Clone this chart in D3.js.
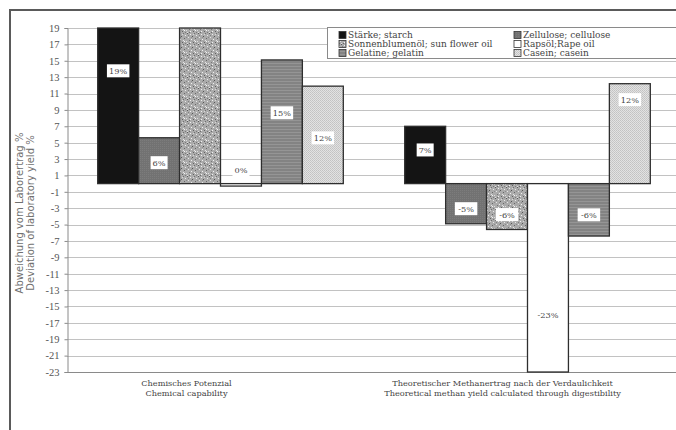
<!DOCTYPE html>
<html>
<head>
<meta charset="utf-8">
<script src="https://cdn.jsdelivr.net/npm/d3@7"></script>
<style>
  html, body { margin: 0; padding: 0; background: #fff; }
  svg { display: block; }
</style>
</head>
<body>
<svg id="chart" width="676" height="430"></svg>
<script>
// ---- data ----
const categories = [
  ["Chemisches Potenzial", "Chemical capability"],
  ["Theoretischer Methanertrag nach der Verdaulichkeit", "Theoretical methan yield calculated through digestibility"]
];
const seriesNames = [
  "Stärke; starch",
  "Zellulose; cellulose",
  "Sonnenblumenöl; sun flower oil",
  "Rapsöl;Rape oil",
  "Gelatine; gelatin",
  "Casein; casein"
];
const starch    = [19, 7];
const cellulose = [5.6, -4.9];
const sunflower = [19, -5.6];
const rapeOil   = [-0.3, -23];
const gelatin   = [15.1, -6.4];
const casein    = [11.9, 12.2];
const starchLabels    = ["19%", "7%"];
const celluloseLabels = ["6%", "-5%"];
const sunflowerLabels = [null, "-6%"];
const rapeOilLabels   = ["0%", "-23%"];
const gelatinLabels   = ["15%", "-6%"];
const caseinLabels    = ["12%", "12%"];
const yTicks = d3.range(-23, 20, 2);
const yDomain = [-23, 19];

const seriesValues = [starch, cellulose, sunflower, rapeOil, gelatin, casein];
const seriesLabels = [starchLabels, celluloseLabels, sunflowerLabels, rapeOilLabels, gelatinLabels, caseinLabels];

// ---- layout / style ----
const fills = ["#141414", "url(#pCell)", "url(#pSun)", "#ffffff", "url(#pGel)", "url(#pCas)"];
// pixel nudges of data labels relative to bar centre [series][category]
const labelNudge = [[-35, -5], [2, 5], [0, 8], [-15, 37], [-9, 5], [3, -34]];
const catLabelDx = [-34, -25];
const serif = "'DejaVu Serif','Liberation Serif',serif";
const tickSerif = "'Liberation Serif','DejaVu Serif',serif";
const sans = "'DejaVu Sans','Liberation Sans',sans-serif";

const svg = d3.select("#chart");
const defs = svg.append("defs");

// patterns
const pSun = defs.append("pattern").attr("id", "pSun").attr("patternUnits", "userSpaceOnUse")
  .attr("width", 11).attr("height", 11);
pSun.append("rect").attr("width", 11).attr("height", 11).attr("fill", "#ababab");
[[0,0,"#5a5a5a"],[3,1,"#eeeeee"],[7,0,"#707070"],[9,2,"#e8e8e8"],[5,3,"#555555"],[1,4,"#e6e6e6"],
 [8,5,"#666666"],[4,6,"#f0f0f0"],[2,7,"#777777"],[10,8,"#dddddd"],[6,9,"#606060"],[0,10,"#e0e0e0"],
 [3,9,"#f2f2f2"],[9,10,"#7a7a7a"],[6,1,"#d8d8d8"],[1,2,"#808080"],[10,4,"#8a8a8a"],[7,7,"#e4e4e4"],
 [4,4,"#8c8c8c"],[2,10,"#6a6a6a"],[8,8,"#f4f4f4"],[5,8,"#9a9a9a"]]
  .forEach(([x,y,c]) => pSun.append("rect").attr("x", x).attr("y", y).attr("width", 1).attr("height", 1).attr("fill", c));

const pGel = defs.append("pattern").attr("id", "pGel").attr("patternUnits", "userSpaceOnUse")
  .attr("width", 4).attr("height", 3);
pGel.append("rect").attr("width", 4).attr("height", 3).attr("fill", "#838383");
pGel.append("rect").attr("width", 4).attr("height", 1).attr("fill", "#959595");

const pCell = defs.append("pattern").attr("id", "pCell").attr("patternUnits", "userSpaceOnUse")
  .attr("width", 2).attr("height", 2);
pCell.append("rect").attr("width", 2).attr("height", 2).attr("fill", "#727272");
pCell.append("rect").attr("width", 1).attr("height", 1).attr("fill", "#7c7c7c");

const pCas = defs.append("pattern").attr("id", "pCas").attr("patternUnits", "userSpaceOnUse")
  .attr("width", 2).attr("height", 2);
pCas.append("rect").attr("width", 2).attr("height", 2).attr("fill", "#e2e2e2");
pCas.append("rect").attr("width", 1).attr("height", 1).attr("fill", "#c2c2c2");
pCas.append("rect").attr("x", 1).attr("y", 1).attr("width", 1).attr("height", 1).attr("fill", "#c8c8c8");

// scales
const plotL = 67, plotR = 681, plotT = 28, plotB = 372;
const y = d3.scaleLinear().domain(yDomain).range([plotB, plotT]);
const x0 = d3.scaleBand().domain(d3.range(categories.length)).range([plotL, plotR])
  .paddingInner(0.2).paddingOuter(0.1);
const x1 = d3.scaleBand().domain(d3.range(seriesNames.length)).range([0, x0.bandwidth()]);

// outer frame
svg.append("path").attr("d", "M10,430 L10,10 L676,10")
  .attr("fill", "none").attr("stroke", "#5a5a5a").attr("stroke-width", 2);

// gridlines
svg.append("g").selectAll("line").data(yTicks).join("line")
  .attr("x1", plotL).attr("x2", 676)
  .attr("y1", d => Math.round(y(d)) + 0.5).attr("y2", d => Math.round(y(d)) + 0.5)
  .attr("stroke", d => d === yDomain[0] ? "#8a8a8a" : "#c2c2c2").attr("stroke-width", 1);

// y axis
const yAxis = d3.axisLeft(y).tickValues(yTicks).tickSize(3).tickPadding(5).tickFormat(d3.format("d"));
const gy = svg.append("g").attr("transform", `translate(${plotL + 0.5},0)`).call(yAxis);
gy.select(".domain").attr("stroke", "#8a8a8a");
gy.selectAll(".tick line").attr("stroke", "#8a8a8a");
gy.selectAll(".tick text").attr("font-family", tickSerif).attr("font-size", 10.5).attr("fill", "#555")
  .text(d => d < 0 ? "-" + Math.abs(d) : d);

// y axis title
const yt = svg.append("text").attr("transform", `translate(23,${213}) rotate(-90)`)
  .attr("text-anchor", "middle").attr("font-family", sans).attr("font-size", 10).attr("fill", "#707070");
yt.append("tspan").attr("x", 0).attr("y", 0).text("Abweichung vom Laborertrag %");
yt.append("tspan").attr("x", 0).attr("y", 10.5).text("Deviation of laboratory yield %");

// bars
const bars = [];
seriesValues.forEach((vals, s) => vals.forEach((v, c) => bars.push({ s, c, v, label: seriesLabels[s][c] })));

svg.append("g").selectAll("rect").data(bars).join("rect")
  .attr("x", d => x0(d.c) + x1(d.s))
  .attr("width", x1.bandwidth())
  .attr("y", d => y(Math.max(0, d.v)))
  .attr("height", d => Math.abs(y(d.v) - y(0)))
  .attr("fill", d => fills[d.s])
  .attr("stroke", "#2e2e2e").attr("stroke-width", 1.3);

// data labels
const lg = svg.append("g");
bars.filter(d => d.label).forEach(d => {
  const cx = x0(d.c) + x1(d.s) + x1.bandwidth() / 2;
  const cy = (y(0) + y(d.v)) / 2 + labelNudge[d.s][d.c];
  const w = d.label.length * 5.5 + 6;
  lg.append("rect").attr("x", cx - w / 2).attr("y", cy - 6.5).attr("width", w).attr("height", 13)
    .attr("fill", "#fff");
  lg.append("text").attr("x", cx).attr("y", cy + 3).attr("text-anchor", "middle")
    .attr("font-family", serif).attr("font-size", 8.2).attr("fill", "#444").text(d.label);
});

// category labels
categories.forEach((lines, c) => {
  const cx = x0(c) + x0.bandwidth() / 2 + catLabelDx[c];
  const t = svg.append("text").attr("text-anchor", "middle").attr("font-family", serif)
    .attr("font-size", 8.2).attr("fill", "#444");
  lines.forEach((ln, i) => t.append("tspan").attr("x", cx).attr("y", 386 + i * 10).text(ln));
});

// legend
const legend = svg.append("g");
legend.append("rect").attr("x", 327.5).attr("y", 27.5).attr("width", 360).attr("height", 31)
  .attr("fill", "#fff").attr("stroke", "#8a8a8a");
seriesNames.forEach((name, i) => {
  const col = i % 2, row = Math.floor(i / 2);
  const lx = col === 0 ? 339 : 514;
  const ly = 35 + row * 9;
  legend.append("rect").attr("x", lx).attr("y", ly - 3.5).attr("width", 7).attr("height", 7)
    .attr("fill", fills[i])
    .attr("stroke", "#333").attr("stroke-width", 0.8);
  legend.append("text").attr("x", lx + 9).attr("y", ly + 3).attr("font-family", serif)
    .attr("font-size", 9).attr("fill", "#444").text(name);
});
</script>
</body>
</html>
